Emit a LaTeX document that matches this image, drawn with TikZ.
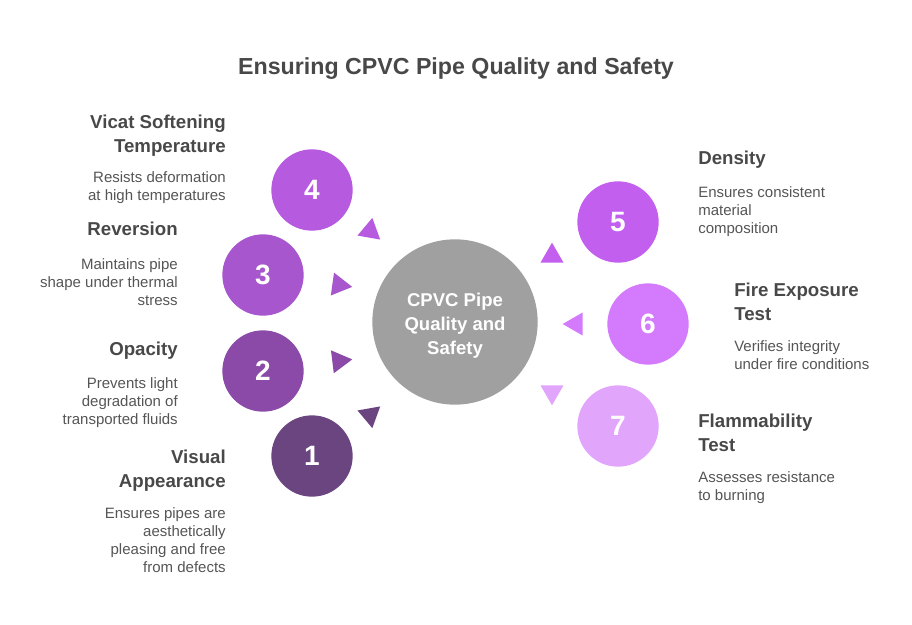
\documentclass[tikz,border=0pt]{standalone}
\usepackage{fontspec}
\setmainfont{Liberation Sans}
\usetikzlibrary{shapes.geometric,positioning}
\definecolor{textdark}{HTML}{484848}
\definecolor{textgray}{HTML}{555555}
\definecolor{hubgray}{HTML}{A0A0A0}
\definecolor{stepone}{HTML}{6A4580}
\definecolor{steptwo}{HTML}{8B4AA8}
\definecolor{stepthree}{HTML}{A756CE}
\definecolor{stepfour}{HTML}{B65ADF}
\definecolor{stepfive}{HTML}{C35FEF}
\definecolor{stepsix}{HTML}{D37BFC}
\definecolor{stepseven}{HTML}{E2A5FC}
\tikzset{
	>=stealth,
}

\begin{document}
\begin{tikzpicture}[x=0.75pt,y=-0.75pt,
hub/.style = {circle, fill=hubgray, minimum size=124pt, inner sep=0},
hubtext/.style = {inner sep=0, align=center, text=white, font=\fontsize{13.9}{18}\selectfont\bfseries},
stepball/.style = {circle, minimum size=61pt, inner sep=0, text=white, font=\fontsize{21}{24}\selectfont\bfseries},
pointer/.style = {regular polygon, regular polygon sides=3, minimum size=20pt, inner sep=0},
itemhead/.style = {inner sep=0, text=textdark, font=\fontsize{14}{18}\selectfont\bfseries},
itemtext/.style = {inner sep=0, text=textgray, font=\fontsize{11.25}{13.5}\selectfont}]
\useasboundingbox (0,0) rectangle (912,624);
\node[anchor=base, inner sep=0, text=textdark, font=\fontsize{17.4}{21}\selectfont\bfseries] (title) at (456,75) {Ensuring CPVC Pipe Quality and Safety};
\node[hub] (hub) at (455,322) {};
\node[hubtext] (hublabel) at ([yshift=-3pt]hub.center) {CPVC Pipe\\Quality and\\Safety};
\node[stepball,fill=stepone] (one) at (312,456) {1};
\node[stepball,fill=steptwo] (two) at (263,371) {2};
\node[stepball,fill=stepthree] (three) at (263,275) {3};
\node[stepball,fill=stepfour] (four) at (312,190) {4};
\node[stepball,fill=stepfive] (five) at (618,222) {5};
\node[stepball,fill=stepsix] (six) at (648,324) {6};
\node[stepball,fill=stepseven] (seven) at (618,426) {7};
\node[pointer,fill=stepone,rotate=190] (tipone) at (370,415) {};
\node[pointer,fill=steptwo,rotate=-83] (tiptwo) at (339,361) {};
\node[pointer,fill=stepthree,rotate=-98] (tipthree) at (339,285) {};
\node[pointer,fill=stepfour,rotate=-10] (tipfour) at (370,231) {};
\node[pointer,fill=stepfive] (tipfive) at (552,256) {};
\node[pointer,fill=stepsix,rotate=90] (tipsix) at (576,324) {};
\node[pointer,fill=stepseven,rotate=180] (tipseven) at (552,392) {};
\node[itemhead,anchor=base east,align=right] (fourhead) at (226,152) {Vicat Softening\\Temperature};
\node[itemtext,anchor=base east,align=right] (fourtext) at (226,200) {Resists deformation\\at high temperatures};
\node[itemhead,anchor=base east,align=right] (threehead) at (178,235) {Reversion};
\node[itemtext,anchor=base east,align=right] (threetext) at (178,305) {Maintains pipe\\shape under thermal\\stress};
\node[itemhead,anchor=base east,align=right] (twohead) at (178,355) {Opacity};
\node[itemtext,anchor=base east,align=right] (twotext) at (178,424) {Prevents light\\degradation of\\transported fluids};
\node[itemhead,anchor=base east,align=right] (onehead) at (226,487) {Visual\\Appearance};
\node[itemtext,anchor=base east,align=right] (onetext) at (226,572) {Ensures pipes are\\aesthetically\\pleasing and free\\from defects};
\node[itemhead,anchor=base west,align=left] (fivehead) at (698,164) {Density};
\node[itemtext,anchor=base west,align=left] (fivetext) at (698,233) {Ensures consistent\\material\\composition};
\node[itemhead,anchor=base west,align=left] (sixhead) at (734,320) {Fire Exposure\\Test};
\node[itemtext,anchor=base west,align=left] (sixtext) at (734,369) {Verifies integrity\\under fire conditions};
\node[itemhead,anchor=base west,align=left] (sevenhead) at (698,451) {Flammability\\Test};
\node[itemtext,anchor=base west,align=left] (seventext) at (698,500) {Assesses resistance\\to burning};
\end{tikzpicture}
\end{document}
